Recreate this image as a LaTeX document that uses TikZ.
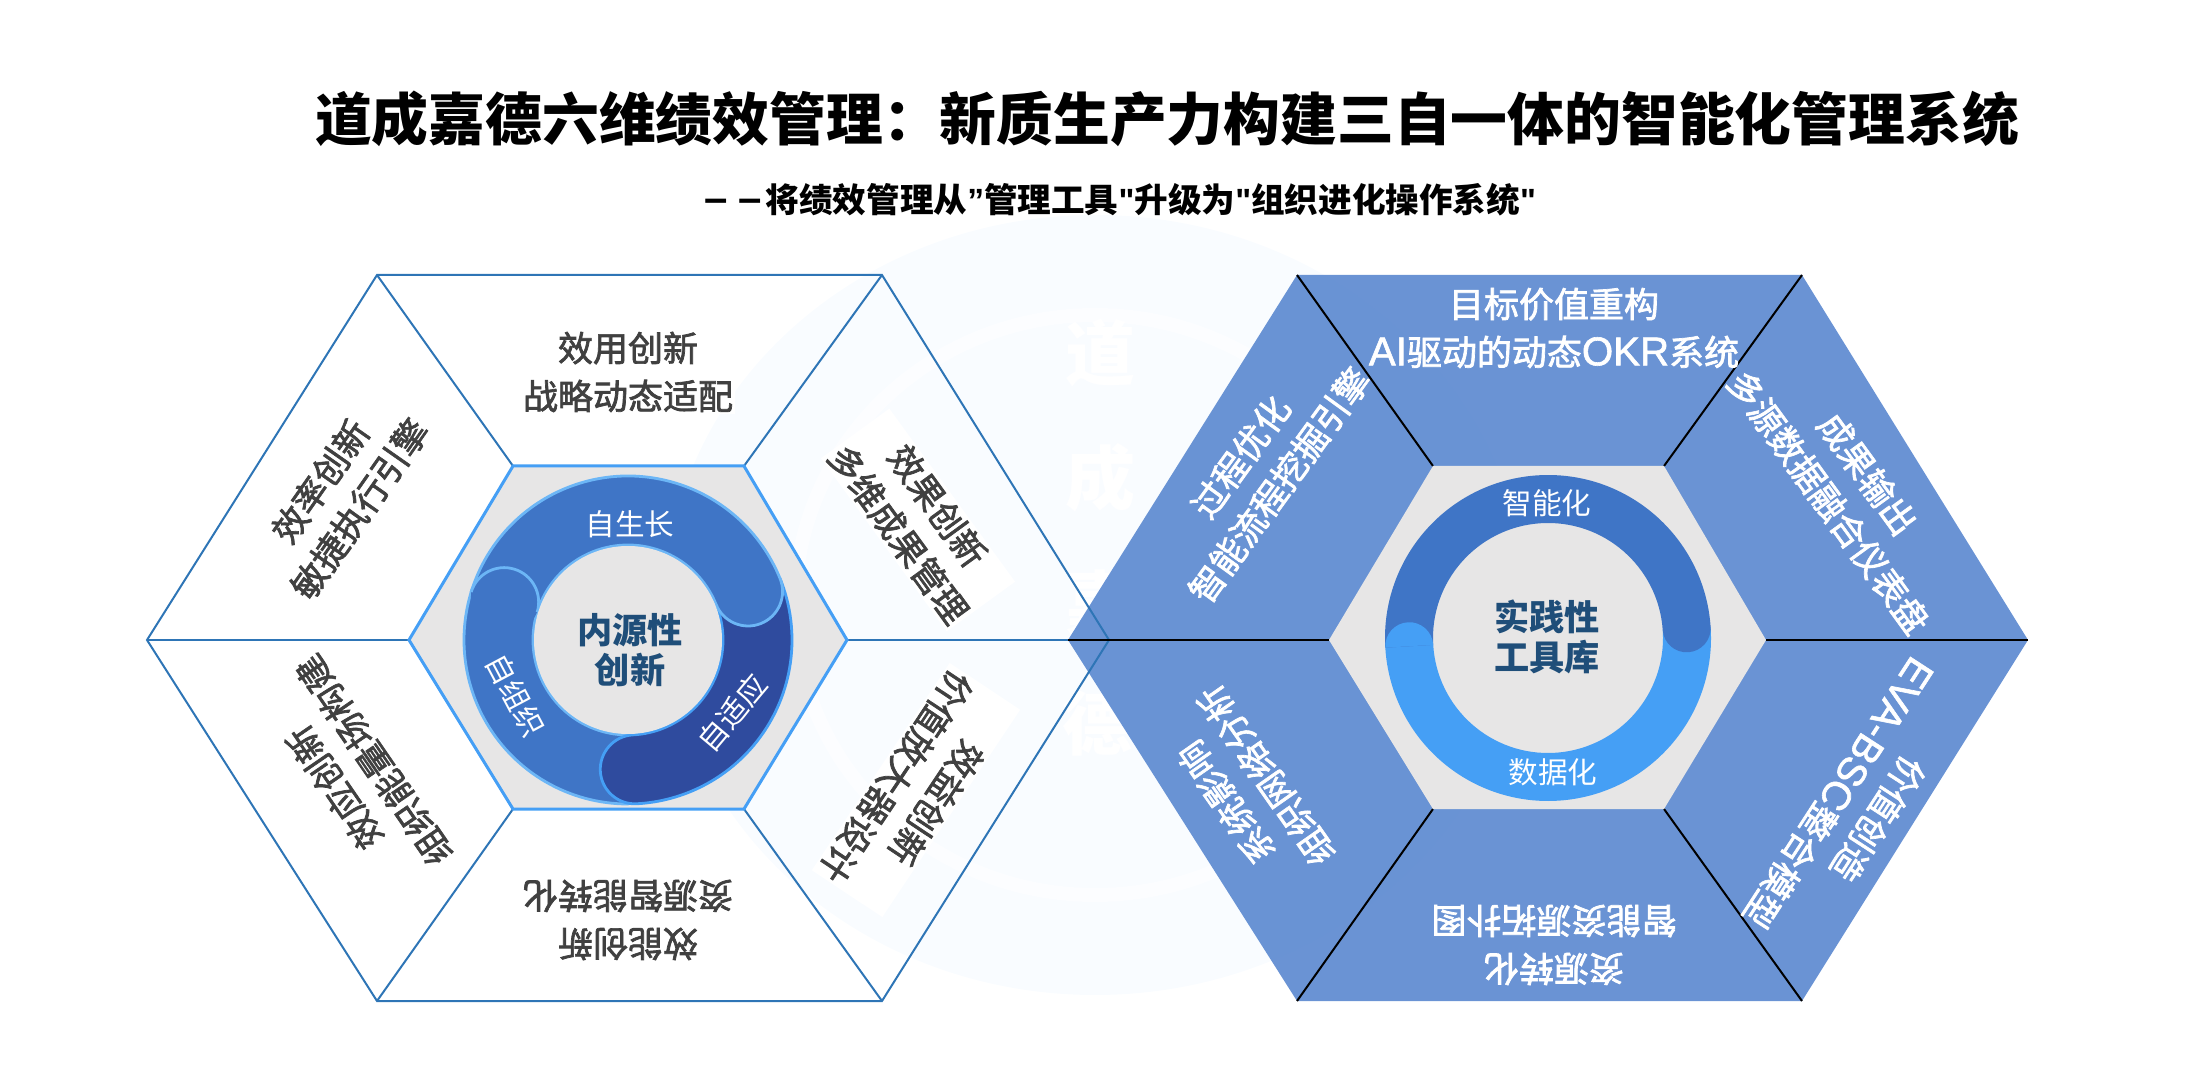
\documentclass[tikz,border=0pt]{standalone}
\usepackage{fontspec}
\setmainfont{Noto Sans CJK SC}
\newfontfamily\medfont[FakeBold=2]{Noto Sans CJK SC}
\newfontfamily\latinfont[Scale=1.15,FakeBold=1.5]{Liberation Sans}
\newfontfamily\quotefont[BoldFont=Liberation Sans Bold]{Liberation Sans}
\usepackage{tikz}
\definecolor{hexgrey}{HTML}{E7E6E6}
\definecolor{edgeblue}{HTML}{2E75B6}
\definecolor{brightblue}{HTML}{459FF5}
\definecolor{paleblue}{HTML}{6CB6F6}
\definecolor{ringblue}{HTML}{3F75C6}
\definecolor{deepblue}{HTML}{2F4B9E}
\definecolor{wedgeblue}{HTML}{6590D3}
\definecolor{labelgrey}{HTML}{404040}
\definecolor{corenavy}{HTML}{1F4E79}
\definecolor{markblue}{HTML}{F9FCFF}

\begin{document}
\begin{tikzpicture}[x=0.5pt,y=-0.5pt,
    title node/.style={font=\fontsize{28.4}{34}\selectfont\bfseries},
    sub node/.style={font=\fontsize{16.8}{20}\selectfont\bfseries},
    dark node/.style={align=center,text=labelgrey,inner sep=1pt,fill=white,font=\fontsize{17.5}{24}\selectfont\medfont},
    light node/.style={align=center,text=white,inner sep=1pt,font=\fontsize{17.5}{24}\selectfont\medfont},
    ring node/.style={text=white,inner sep=0pt,font=\fontsize{14.8}{17}\selectfont},
    core node/.style={align=center,text=corenavy,font=\fontsize{17.6}{20}\selectfont\bfseries},
    mark node/.style={text=white,font=\fontsize{35}{40}\selectfont\bfseries},
    hex line/.style={draw=edgeblue,line width=1pt},
    dark spoke/.style={draw=black,line width=1pt},
    core hex/.style={fill=hexgrey},
    ring line/.style={draw=paleblue,line width=1.4pt,line join=round}]

  \path[use as bounding box] (0,0) rectangle (2192,1080);

  \fill[markblue] (1095,605) ellipse [x radius=430,y radius=390];
  \draw[white,line width=7pt,opacity=.5] (1095,605) ellipse [x radius=300,y radius=290];
  \node[mark node] (m1) at (1100,353) {道};
  \node[mark node] (m2) at (1100,478) {成};
  \node[mark node] (m3) at (1100,603) {嘉};
  \node[mark node] (m4) at (1097,723) {德};

  \coordinate (a1) at (377,275);
  \coordinate (a2) at (882,275);
  \coordinate (a3) at (1109,640);
  \coordinate (a4) at (882,1001);
  \coordinate (a5) at (377,1001);
  \coordinate (a6) at (147,640);
  \coordinate (b1) at (513,466);
  \coordinate (b2) at (744,466);
  \coordinate (b3) at (847,640);
  \coordinate (b4) at (744,809);
  \coordinate (b5) at (513,809);
  \coordinate (b6) at (409,640);
  \coordinate (c1) at (1297,275);
  \coordinate (c2) at (1802,275);
  \coordinate (c3) at (2028,640);
  \coordinate (c4) at (1802,1001);
  \coordinate (c5) at (1297,1001);
  \coordinate (c6) at (1068,640);
  \coordinate (d1) at (1433,466);
  \coordinate (d2) at (1664,466);
  \coordinate (d3) at (1766,640);
  \coordinate (d4) at (1664,809);
  \coordinate (d5) at (1433,809);
  \coordinate (d6) at (1329,640);

  \fill[wedgeblue,opacity=.97] (c1) -- (c2) -- (c3) -- (c4) -- (c5) -- (c6) -- cycle;
  \draw[hex line] (a1) -- (a2) -- (a3) -- (a4) -- (a5) -- (a6) -- cycle;
  \path[hex line]
    (a1) edge (b1)
    (a2) edge (b2)
    (a3) edge (b3)
    (a4) edge (b4)
    (a5) edge (b5)
    (a6) edge (b6);
  \path[dark spoke]
    (c1) edge (d1)
    (c2) edge (d2)
    (c3) edge (d3)
    (c4) edge (d4)
    (c5) edge (d5)
    (c6) edge (d6);
  \fill[core hex] (d1) -- (d2) -- (d3) -- (d4) -- (d5) -- (d6) -- cycle;
  \draw[core hex,draw=brightblue,line width=1.5pt] (b1) -- (b2) -- (b3) -- (b4) -- (b5) -- (b6) -- cycle;

  \begin{scope}[shift={(628,640)},x=0.5pt,y=0.5pt]
    \draw[ring line,fill=ringblue] (-90:164) arc[start angle=-90,end angle=-197,radius=164]
      arc[start angle=163,end angle=-17,radius=34.5] arc[start angle=163,end angle=270,radius=95] -- cycle;
    \draw[ring line,draw=brightblue,fill=deepblue] (22:164) arc[start angle=22,end angle=-87,radius=164]
      arc[start angle=-87,end angle=-267,radius=34.5] arc[start angle=-87,end angle=22,radius=95] -- cycle;
    \draw[ring line,fill=ringblue] (163:164) arc[start angle=163,end angle=22,radius=164]
      arc[start angle=22,end angle=-158,radius=34.5] arc[start angle=22,end angle=163,radius=95] -- cycle;
    \fill[ringblue] (163:164) arc[start angle=163,end angle=-17,radius=34.5] -- (168:97) -- (168:161) -- cycle;
    \draw[ring line] (163:164) arc[start angle=163,end angle=-17,radius=34.5];
    \fill[hexgrey] (0,0) circle (94);
  \end{scope}

  \begin{scope}[shift={(1548,638)},x=0.5pt,y=0.5pt]
    \fill[brightblue] (4:163) arc[start angle=4,end angle=-176.6,radius=163]
      arc[start angle=183.4,end angle=3.4,radius=24] arc[start angle=-176.6,end angle=4,radius=115] -- cycle;
    \fill[ringblue] (183.4:163) arc[start angle=183.4,end angle=4,radius=163]
      arc[start angle=4,end angle=-176,radius=24] arc[start angle=4,end angle=183.4,radius=115] -- cycle;
    \fill[brightblue] (183.4:163) arc[start angle=183.4,end angle=3.4,radius=24] -- cycle;
  \end{scope}

  \node[title node] (title) at (1167,119) {道成嘉德六维绩效管理：新质生产力构建三自一体的智能化管理系统};
  \node[sub node] (subtitle) at (1120,200) {{\quotefont\fontsize{21}{20}\selectfont –\hspace{5.5pt}–\hspace{2pt}}将绩效管理从{\quotefont ”}管理工具{\quotefont\symbol{34}}升级为{\quotefont\symbol{34}}组织进化操作系统{\quotefont\symbol{34}}};

  \node[dark node] (l1) at (628,372) {效用创新\\战略动态适配};
  \node[dark node,rotate=-54] (l2) at (918,520) {效果创新\\多维成果管理};
  \node[dark node,rotate=-123.6] (l3) at (916,790) {效益创新\\价值放大器设计};
  \node[dark node,rotate=180] (l4) at (628,920) {效能创新\\资源智能转化};
  \node[dark node,rotate=124.5] (l5) at (354,774) {效应创新\\组织能量场构建};
  \node[dark node,rotate=55] (l6) at (340,495) {效率创新\\敏捷执行引擎};

  \node[light node] (r1) at (1554,328) {目标价值重构\\{\latinfont AI}驱动的动态{\latinfont OKR}系统};
  \node[light node,rotate=-54] (r2) at (1848,488) {成果输出\\多源数据融合仪表盘};
  \node[light node,rotate=-123] (r3) at (1858,806) {价值创造\\{\latinfont EVA-BSC}整合模型};
  \node[light node,rotate=180] (r4) at (1554,945) {资源转化\\智能资源拓扑图};
  \node[light node,rotate=125] (r5) at (1246,789) {系统影响\\组织网络分析};
  \node[light node,rotate=54] (r6) at (1260,471) {过程优化\\智能流程挖掘引擎};

  \node[ring node] (g1) at (630,524) {自生长};
  \node[ring node,rotate=-62] (g2) at (515,695) {自组织};
  \node[ring node,rotate=50] (g3) at (732,713) {自适应};
  \node[ring node] (g4) at (1547,503) {智能化};
  \node[ring node] (g5) at (1553,772) {数据化};

  \node[core node] (k1) at (630,650) {内源性\\创新};
  \node[core node] (k2) at (1547,637) {实践性\\工具库};
\end{tikzpicture}
\end{document}
